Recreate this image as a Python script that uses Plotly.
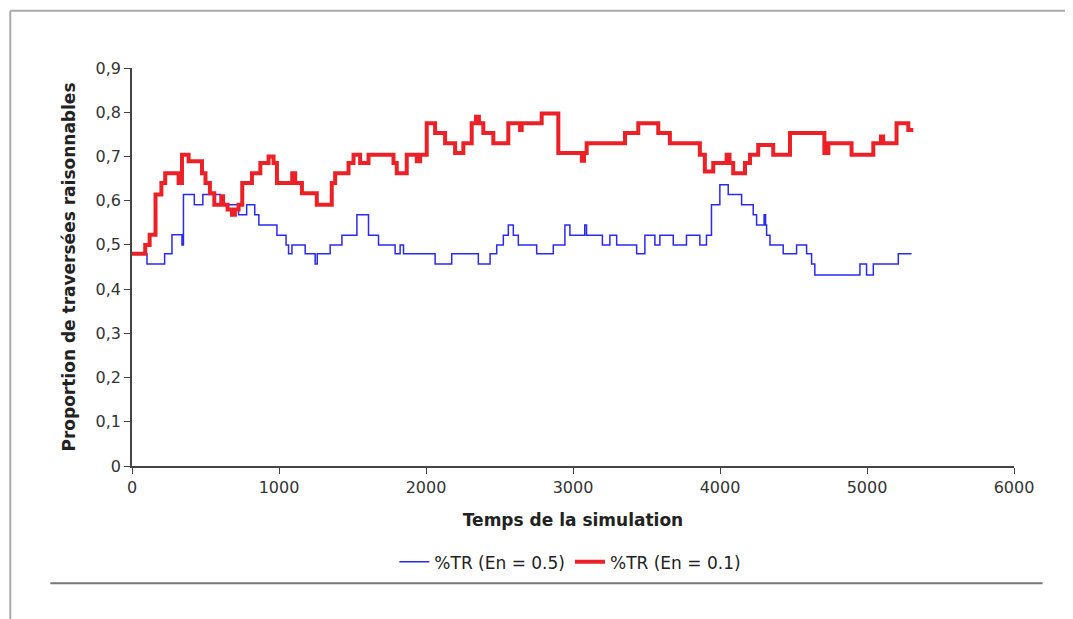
import plotly.graph_objects as go

# Series En = 0.5 (blue, thin) : step times and values
blue_t = [0, 102, 222, 272, 340, 350, 424, 482, 600, 725, 780, 835, 863, 986, 1048, 1065,
          1088, 1178, 1246, 1260, 1348, 1428, 1530, 1609, 1677, 1790, 1824, 1847, 2062, 2175,
          2356, 2436, 2481, 2526, 2560, 2594, 2628, 2753, 2866, 2945, 2979, 3080, 3092, 3200,
          3251, 3297, 3433, 3489, 3557, 3591, 3682, 3772, 3863, 3908, 3942, 3999, 4056, 4147,
          4226, 4249, 4300, 4310, 4317, 4340, 4430, 4521, 4589, 4623, 4645, 4952, 4997, 5043,
          5213, 5303]
blue_v = [0.48, 0.457, 0.48, 0.523, 0.50, 0.614, 0.591, 0.614, 0.591, 0.568, 0.591, 0.568,
          0.545, 0.522, 0.50, 0.48, 0.50, 0.48, 0.457, 0.48, 0.50, 0.522, 0.568, 0.522, 0.50,
          0.48, 0.50, 0.48, 0.457, 0.48, 0.457, 0.48, 0.50, 0.522, 0.545, 0.522, 0.50, 0.48,
          0.50, 0.545, 0.522, 0.545, 0.522, 0.50, 0.522, 0.50, 0.48, 0.522, 0.50, 0.522, 0.50,
          0.522, 0.50, 0.522, 0.591, 0.636, 0.614, 0.591, 0.568, 0.545, 0.568, 0.545, 0.522,
          0.50, 0.48, 0.50, 0.48, 0.457, 0.432, 0.457, 0.432, 0.457, 0.48, 0.48]

# Series En = 0.1 (red, thick)
red_t = [0, 90, 120, 160, 200, 226, 317, 340, 385, 476, 500, 530, 560, 610, 620, 650, 680,
         700, 725, 750, 816, 873, 929, 963, 986, 1090, 1110, 1156, 1257, 1359, 1382, 1473,
         1507, 1552, 1609, 1779, 1801, 1869, 1937, 1960, 2005, 2062, 2130, 2198, 2254, 2311,
         2340, 2360, 2390, 2458, 2560, 2640, 2651, 2787, 2900, 3060, 3075, 3093, 3354, 3444,
         3580, 3659, 3863, 3897, 3954, 4045, 4065, 4090, 4170, 4204, 4260, 4362, 4476, 4710,
         4737, 4895, 5043, 5095, 5110, 5201, 5281, 5315]
red_v = [0.48, 0.50, 0.523, 0.614, 0.64, 0.662, 0.64, 0.704, 0.689, 0.662, 0.64, 0.617,
         0.591, 0.61, 0.591, 0.58, 0.568, 0.58, 0.591, 0.64, 0.662, 0.685, 0.70, 0.685, 0.64,
         0.662, 0.64, 0.617, 0.591, 0.64, 0.662, 0.685, 0.704, 0.685, 0.704, 0.685, 0.662,
         0.704, 0.689, 0.704, 0.775, 0.753, 0.73, 0.708, 0.73, 0.775, 0.79, 0.775, 0.753,
         0.73, 0.775, 0.76, 0.775, 0.797, 0.708, 0.69, 0.708, 0.73, 0.753, 0.775, 0.753,
         0.73, 0.704, 0.666, 0.685, 0.704, 0.685, 0.662, 0.685, 0.704, 0.726, 0.704, 0.753,
         0.708, 0.73, 0.704, 0.73, 0.745, 0.73, 0.775, 0.76, 0.76]

y_ticks = [0, 0.1, 0.2, 0.3, 0.4, 0.5, 0.6, 0.7, 0.8, 0.9]
y_labels = ["0", "0,1", "0,2", "0,3", "0,4", "0,5", "0,6", "0,7", "0,8", "0,9"]
x_ticks = [0, 1000, 2000, 3000, 4000, 5000, 6000]

FONT = "DejaVu Sans"

fig = go.Figure()
fig.add_trace(go.Scatter(x=blue_t, y=blue_v, mode="lines", line_shape="hv",
                         line=dict(color="#2a2af0", width=1.5), name="%TR (En = 0.5)"))
fig.add_trace(go.Scatter(x=red_t, y=red_v, mode="lines", line_shape="hv",
                         line=dict(color="#ec2127", width=4), name="%TR (En = 0.1)"))

axis_common = dict(showgrid=False, zeroline=False, showline=True, linecolor="#444",
                   linewidth=1.5, ticks="outside", ticklen=6, tickcolor="#444",
                   tickfont=dict(family=FONT, size=16, color="#333"))

fig.update_layout(
    width=1073, height=619,
    margin=dict(l=124, r=67, t=60, b=161),
    paper_bgcolor="white", plot_bgcolor="white",
    font=dict(family=FONT, color="#222"),
    showlegend=True,
    legend=dict(orientation="h", x=0.497, y=-0.242, xanchor="center", yanchor="middle",
                font=dict(family=FONT, size=17, color="#222"), bgcolor="rgba(0,0,0,0)"),
    xaxis=dict(range=[0, 6000], tickvals=x_ticks, ticktext=[str(v) for v in x_ticks],
               title=dict(text="<b>Temps de la simulation</b>", standoff=18,
                          font=dict(family=FONT, size=17, color="#222")),
               **axis_common),
    yaxis=dict(range=[0, 0.9], tickvals=y_ticks, ticktext=y_labels,
               title=dict(text="<b>Proportion de traversées raisonnables</b>", standoff=16,
                          font=dict(family=FONT, size=17, color="#222")),
               **axis_common),
)

# frame lines (paper coordinates relative to plot area)
fig.add_shape(type="line", xref="paper", yref="paper", x0=-0.138, x1=1.07, y0=1.1438, y1=1.1438,
              line=dict(color="#aaa", width=2))
fig.add_shape(type="line", xref="paper", yref="paper", x0=-0.138, x1=-0.138, y0=-0.39, y1=1.1438,
              line=dict(color="#aaa", width=2))
fig.add_shape(type="line", xref="paper", yref="paper", x0=-0.0926, x1=1.0325, y0=-0.2944, y1=-0.2944,
              line=dict(color="#777", width=2))

fig.write_html("out.html")
